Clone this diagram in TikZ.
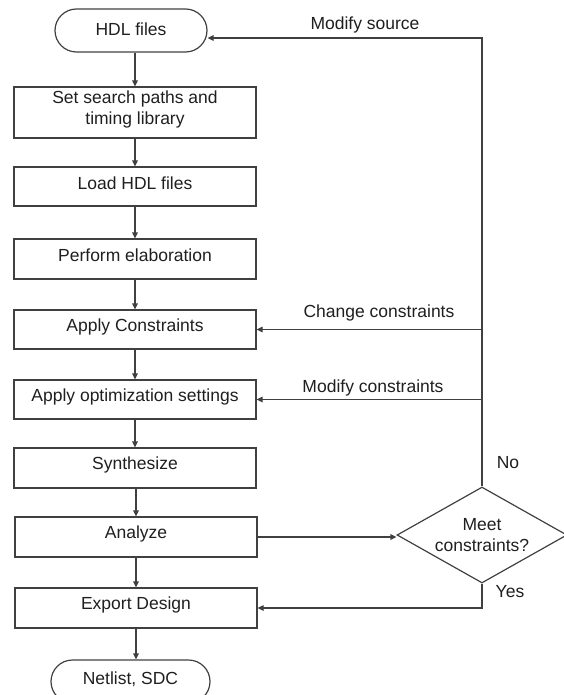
\documentclass[tikz,border=0pt]{standalone}
\usepackage{fontspec}
\setmainfont{Liberation Sans}
\usetikzlibrary{shapes.geometric,arrows.meta}
\begin{document}
\begin{tikzpicture}[x=1pt,y=-1pt,
  every node/.style={font=\fontsize{17.5}{21.5}\selectfont, text=black!88},
  box/.style={draw=black!75, line width=1.2pt, minimum width=242pt, minimum height=40pt, inner sep=0pt},
  term/.style={draw=black!75, line width=1.2pt, rounded corners=21.5pt, minimum width=152pt, minimum height=43pt, inner sep=0pt},
  dec/.style={diamond, draw=black!75, line width=1.2pt, minimum width=170pt, minimum height=96pt, inner sep=0pt, aspect=1.77, align=center},
  arr/.style={draw=black!75, line width=1.2pt, -{Triangle[length=6pt,width=5.5pt]}},
  lbl/.style={inner sep=0pt}]
\useasboundingbox (0,0) rectangle (564,695);

\node[term, label={[yshift=1pt]center:HDL files}] (hdl) at (131,30.5) {};
\node[box, minimum height=51pt, label={[yshift=3pt,align=center]center:Set search paths and\\timing library}] (b1) at (135,112.5) {};
\node[box, minimum height=39pt, label={[yshift=3pt]center:Load HDL files}] (b2) at (135,186.5) {};
\node[box, label={[yshift=4pt]center:Perform elaboration}] (b3) at (135,259) {};
\node[box, minimum height=39pt, label={[yshift=3pt]center:Apply Constraints}] (b4) at (135,329.5) {};
\node[box, minimum height=39pt, label={[yshift=3pt]center:Apply optimization settings}] (b5) at (135,399.5) {};
\node[box, label={[yshift=3pt]center:Synthesize}] (b6) at (135,468) {};
\node[box, label={[yshift=3pt]center:Analyze}] (b7) at (136,537) {};
\node[box, label={[yshift=3pt]center:Export Design}] (b8) at (136,608) {};
\node[term, minimum width=159pt, label={[yshift=2pt]center:Netlist, SDC}] (net) at (130.5,681.5) {};

\node[dec] (dia) at (482,535) {Meet\\constraints?};

\coordinate (rt) at (482,38);

% main flow
\draw[arr] (hdl.south -| b1) -- (b1.north);
\draw[arr] (b1) -- (b2);
\draw[arr] (b2) -- (b3);
\draw[arr] (b3) -- (b4);
\draw[arr] (b4) -- (b5);
\draw[arr] (b5) -- (b6);
\draw[arr] (b6.south -| b7) -- (b7.north);
\draw[arr] (b7) -- (b8);
\draw[arr] (b8.south) -- (b8.south |- net.north);

% decision
\draw[arr] (b7.east) -- (b7.east -| dia.west);
\draw[arr] (dia.north) -- (rt) -- (hdl.east |- rt);
\draw[arr] (rt |- b4.east) -- (b4.east);
\draw[arr] (rt |- b5.east) -- (b5.east);
\draw[arr] (dia.south) |- (b8.east);

% labels
\node[lbl] (ms) at (365,25) {Modify source};
\node[lbl] (cc) at (379,313) {Change constraints};
\node[lbl] (mc) at (373,388) {Modify constraints};
\node[lbl] (no) at (508,463) {No};
\node[lbl] (yes) at (510,592) {Yes};
\end{tikzpicture}
\end{document}
